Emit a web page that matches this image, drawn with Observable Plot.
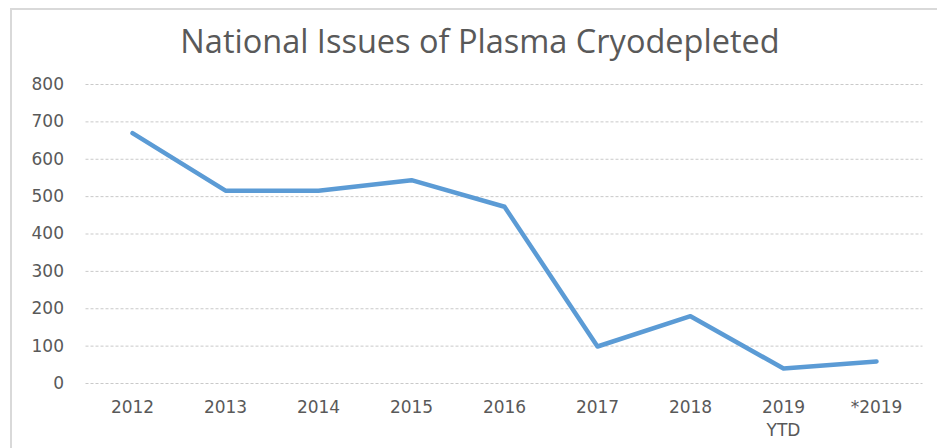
<!DOCTYPE html>
<html>
<head>
<meta charset="utf-8">
<script src="https://cdn.jsdelivr.net/npm/d3@7"></script>
<script src="https://cdn.jsdelivr.net/npm/@observablehq/plot@0.6"></script>
<style>
  html, body { margin: 0; padding: 0; background: #fff; }
  #wrap { position: relative; width: 937px; height: 448px; overflow: hidden; }
  #frame { position: absolute; left: 10px; top: 8px; right: -5px; bottom: -5px;
           border-left: 2px solid #d9d9d9; border-top: 2px solid #d9d9d9; }
  #title { position: absolute; left: 0; width: 960px; top: 21px; text-align: center;
           font-family: "Open Sans", sans-serif; font-size: 32.5px; line-height: 40px; color: #595959; }
  #chart { position: absolute; left: 0; top: 0; }
</style>
</head>
<body>
<div id="wrap">
  <div id="frame"></div>
  <div id="chart"></div>
  <div id="title">National Issues of Plasma Cryodepleted</div>
</div>
<script>
const categories = ["2012", "2013", "2014", "2015", "2016", "2017", "2018", "2019 YTD", "*2019"];
const tickLabels = ["2012", "2013", "2014", "2015", "2016", "2017", "2018", "2019\nYTD", "*2019"];
const values = [670, 516, 516, 544, 473, 99, 180, 40, 59];
const yTicks = [0, 100, 200, 300, 400, 500, 600, 700, 800];

const data = categories.map((c, i) => ({category: c, value: values[i]}));
const labelOf = new Map(categories.map((c, i) => [c, tickLabels[i]]));

const chart = Plot.plot({
  width: 937,
  height: 448,
  marginTop: 84,
  marginBottom: 65,
  marginLeft: 85.5,
  marginRight: 14.5,
  style: { fontFamily: "DejaVu Sans, sans-serif", fontSize: "17px", color: "#595959", background: "transparent" },
  x: { type: "point", domain: categories, padding: 0.5, label: null },
  y: { domain: [0, 800], label: null },
  marks: [
    Plot.ruleY(yTicks, { stroke: "#c9c9c9", strokeWidth: 1, strokeDasharray: "3,2" }),
    Plot.axisY({ ticks: yTicks, tickSize: 0, tickPadding: 22, label: null, fill: "#595959" }),
    Plot.axisX({ tickSize: 0, tickPadding: 13, label: null, fill: "#595959",
                 tickFormat: d => labelOf.get(d), lineHeight: 1.35 }),
    Plot.line(data, { x: "category", y: "value", stroke: "#5b9bd5", strokeWidth: 4.5,
                      strokeLinejoin: "round", strokeLinecap: "round" })
  ]
});
document.getElementById("chart").appendChild(chart);
</script>
</body>
</html>
